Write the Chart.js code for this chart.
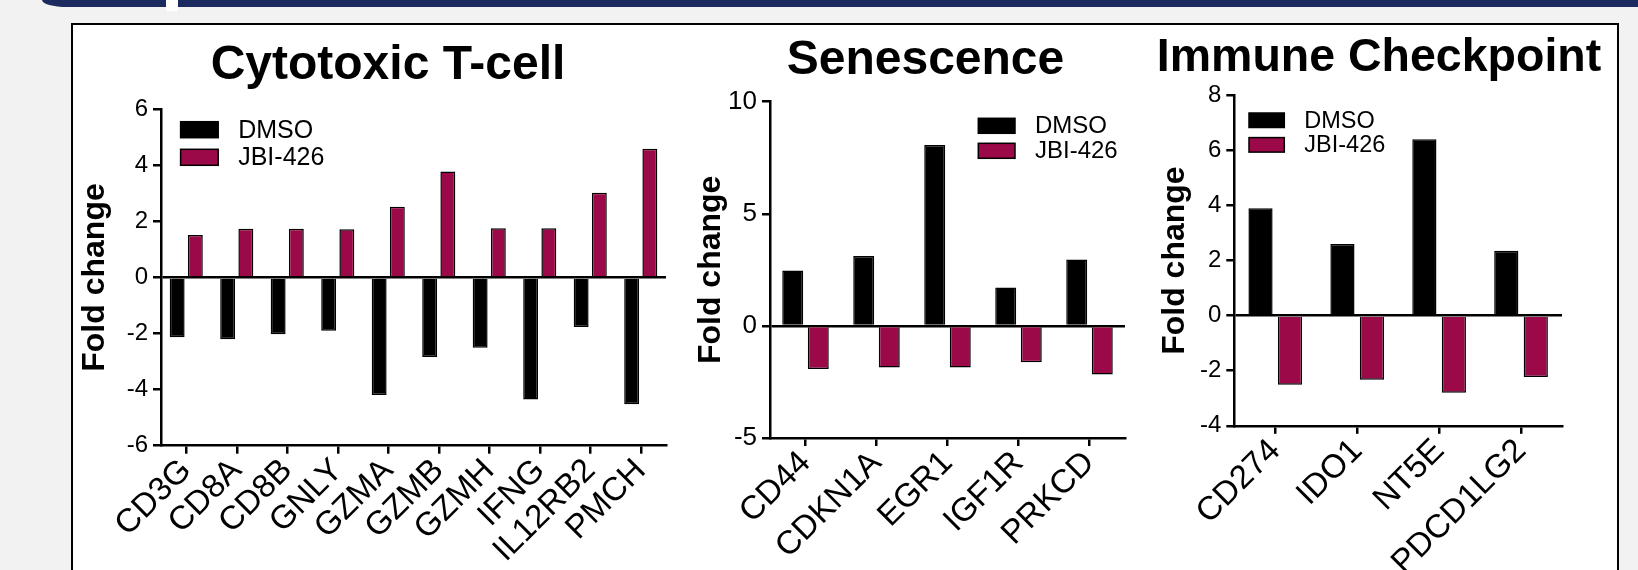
<!DOCTYPE html>
<html>
<head>
<meta charset="utf-8">
<script src="https://cdn.jsdelivr.net/npm/chart.js@4"></script>
<style>
    html, body { margin: 0; padding: 0; }
    body {
        width: 1638px; height: 570px; overflow: hidden; position: relative;
        background: #f2f2f2;
        font-family: "Liberation Sans", Arial, sans-serif;
    }
    .topbar {
        position: absolute; left: 42px; top: 0; right: 0; height: 7px;
        background: #1c2b5f; border-bottom-left-radius: 25px 7px;
    }
    .topgap { position: absolute; left: 166px; top: 0; width: 12px; height: 11px; background: #fff; }
    .frame {
        position: absolute; left: 71px; top: 23px; width: 1548px; height: 600px;
        box-sizing: border-box; border: 2px solid #000; background: #fff;
    }
    canvas { position: absolute; top: 25px; }
</style>
</head>
<body>
<div class="topbar"></div>
<div class="topgap"></div>
<div class="frame"></div>
<canvas id="cytoChart" width="628" height="545" style="left:74px"></canvas>
<canvas id="senChart" width="471" height="545" style="left:690px"></canvas>
<canvas id="icpChart" width="450" height="545" style="left:1154px"></canvas>

<script>
// データ
const seriesNames = ['DMSO', 'JBI-426'];

const cytoGenes = ['CD3G', 'CD8A', 'CD8B', 'GNLY', 'GZMA', 'GZMB', 'GZMH', 'IFNG', 'IL12RB2', 'PMCH'];
const cytoDmso = [-2.13, -2.2, -2.02, -1.9, -4.19, -2.84, -2.51, -4.35, -1.77, -4.52];
const cytoJbi = [1.52, 1.74, 1.74, 1.72, 2.52, 3.78, 1.76, 1.76, 3.02, 4.59];

const senGenes = ['CD44', 'CDKN1A', 'EGR1', 'IGF1R', 'PRKCD'];
const senDmso = [2.47, 3.12, 8.07, 1.71, 2.96];
const senJbi = [-1.92, -1.85, -1.85, -1.62, -2.17];

const icpGenes = ['CD274', 'IDO1', 'NT5E', 'PDCD1LG2'];
const icpDmso = [3.9, 2.6, 6.41, 2.36];
const icpJbi = [-2.51, -2.33, -2.8, -2.23];

const FONT = '"Liberation Sans", Arial, sans-serif';
const DMSO_COLOR = '#000000';
const JBI_COLOR = '#9b0948';

Chart.defaults.font.family = FONT;
Chart.defaults.color = '#000';

// 凡例をプロット領域の内側に描く
const insideLegend = {
    id: 'insideLegend',
    afterDraw(chart, args, opts) {
        const { ctx, chartArea } = chart;
        ctx.save();
        ctx.font = `${opts.fontSize}px ${FONT}`;
        ctx.textBaseline = 'middle';
        chart.data.datasets.forEach((ds, i) => {
            const x = chartArea.left + opts.dx;
            const y = chartArea.top + opts.dy + i * opts.step;
            ctx.fillStyle = ds.backgroundColor;
            ctx.fillRect(x, y, opts.boxW, opts.boxH);
            ctx.lineWidth = 1.5;
            ctx.strokeStyle = '#000';
            ctx.strokeRect(x, y, opts.boxW, opts.boxH);
            ctx.fillStyle = '#000';
            ctx.fillText(ds.label, x + opts.boxW + opts.gap, y + opts.boxH / 2 + 1);
        });
        ctx.restore();
    }
};

function makeChart(id, cfg) {
    const ctx = document.getElementById(id).getContext('2d');
    return new Chart(ctx, {
        type: 'bar',
        data: {
            labels: cfg.labels,
            datasets: [
                {
                    label: seriesNames[0],
                    data: cfg.dmso,
                    backgroundColor: DMSO_COLOR,
                    borderColor: '#000',
                    borderWidth: 1.5,
                    categoryPercentage: 0.72,
                    barPercentage: 0.82
                },
                {
                    label: seriesNames[1],
                    data: cfg.jbi,
                    backgroundColor: JBI_COLOR,
                    borderColor: '#000',
                    borderWidth: 1.5,
                    categoryPercentage: 0.72,
                    barPercentage: 0.82
                }
            ]
        },
        options: {
            responsive: false,
            animation: false,
            devicePixelRatio: 1,
            layout: { padding: 0 },
            scales: {
                x: {
                    offset: true,
                    grid: {
                        offset: false,
                        drawOnChartArea: false,
                        color: '#000',
                        lineWidth: 2.5,
                        tickLength: 8
                    },
                    border: { color: '#000', width: 2.5 },
                    ticks: {
                        autoSkip: false,
                        minRotation: 45,
                        maxRotation: 45,
                        padding: 0,
                        font: { size: 33, lineHeight: 1.0 }
                    },
                    afterFit(scale) { scale.height = cfg.xHeight; }
                },
                y: {
                    min: cfg.min,
                    max: cfg.max,
                    grid: {
                        drawOnChartArea: true,
                        color: c => (c.tick && c.tick.value === 0 ? '#000' : 'rgba(0,0,0,0)'),
                        tickColor: '#000',
                        lineWidth: 2.5,
                        tickLength: 8
                    },
                    border: { color: '#000', width: 2.5 },
                    ticks: {
                        stepSize: cfg.step,
                        padding: 5,
                        font: { size: cfg.tickSize }
                    },
                    title: {
                        display: true,
                        text: 'Fold change',
                        font: { size: 32, weight: 'bold', lineHeight: 1.2 },
                        padding: { top: cfg.yTitlePad, bottom: 0 }
                    },
                    afterFit(scale) { scale.width = cfg.yWidth; }
                },
                // 右側の空白（タイトルをキャンバス中央に置くため）
                spacer: {
                    position: 'right',
                    grid: { display: false },
                    border: { display: false },
                    ticks: { display: false },
                    afterFit(scale) { scale.width = cfg.padRight; }
                }
            },
            plugins: {
                legend: { display: false },
                tooltip: { enabled: false },
                title: {
                    display: true,
                    text: cfg.title,
                    font: { size: cfg.titleSize, weight: 'bold', lineHeight: 1.2 },
                    padding: { top: cfg.titleTop, bottom: cfg.titleBottom }
                },
                insideLegend: cfg.legend
            }
        },
        plugins: [insideLegend]
    });
}

// 細胞傷害性T細胞
makeChart('cytoChart', {
    title: 'Cytotoxic T-cell', titleSize: 48, titleTop: 12.2, titleBottom: 14.5,
    labels: cytoGenes, dmso: cytoDmso, jbi: cytoJbi,
    min: -6, max: 6, step: 2, tickSize: 24,
    yWidth: 87, yTitlePad: 1.7, xHeight: 124.3, padRight: 36,
    legend: { dx: 19.6, dy: 12.4, step: 27.6, boxW: 37.6, boxH: 16, gap: 20, fontSize: 25 }
});

// 老化
makeChart('senChart', {
    title: 'Senescence', titleSize: 48, titleTop: 7, titleBottom: 12.1,
    labels: senGenes, dmso: senDmso, jbi: senJbi,
    min: -5, max: 10, step: 5, tickSize: 26,
    yWidth: 80, yTitlePad: 1.8, xHeight: 132, padRight: 36,
    legend: { dx: 208.3, dy: 16.6, step: 25, boxW: 36.7, boxH: 15, gap: 20, fontSize: 24 }
});

// 免疫チェックポイント
makeChart('icpChart', {
    title: 'Immune Checkpoint', titleSize: 46.5, titleTop: 5.3, titleBottom: 9.3,
    labels: icpGenes, dmso: icpDmso, jbi: icpJbi,
    min: -4, max: 8, step: 2, tickSize: 24,
    yWidth: 80.3, yTitlePad: 2, xHeight: 144.2, padRight: 42,
    legend: { dx: 14.7, dy: 17.6, step: 24.6, boxW: 35.3, boxH: 14.5, gap: 20, fontSize: 23.5 }
});
</script>
</body>
</html>
